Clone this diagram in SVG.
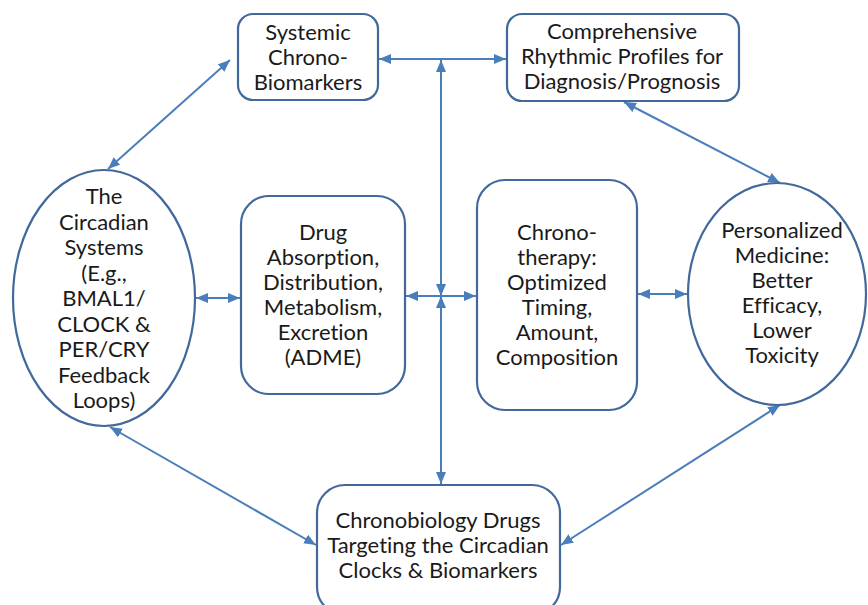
<svg xmlns="http://www.w3.org/2000/svg" width="868" height="605" viewBox="0 0 868 605">
<style>
.n{fill:#fff;stroke:#41699b;stroke-width:2.2}
.t{font-family:Lato,"Liberation Sans",sans-serif;font-size:22px;fill:#1a1a1a;text-anchor:middle;font-variant-ligatures:none}
.c{stroke:#4a7ebb;stroke-width:2;fill:none;marker-start:url(#ah);marker-end:url(#ah)}
</style>
<defs>
<marker id="ah" viewBox="0 0 12 10" refX="12" refY="5" markerWidth="12" markerHeight="10" markerUnits="userSpaceOnUse" orient="auto-start-reverse">
<path d="M0,0 L12,5 L0,10 Z" fill="#4a7ebb"/>
</marker>
</defs>
<rect width="868" height="605" fill="#fff"/>
<g id="connectors">
<line class="c" x1="379" y1="59" x2="506" y2="59"/>
<line class="c" x1="441" y1="296" x2="441" y2="60"/>
<line class="c" x1="441" y1="296" x2="441" y2="484"/>
<line class="c" x1="406" y1="296" x2="476" y2="296"/>
<line class="c" x1="196" y1="298" x2="240" y2="298"/>
<line class="c" x1="638" y1="294" x2="687" y2="294"/>
<line class="c" x1="230" y1="60" x2="108" y2="169"/>
<line class="c" x1="624" y1="102" x2="780" y2="183"/>
<line class="c" x1="110" y1="427" x2="316" y2="545"/>
<line class="c" x1="780" y1="405" x2="561" y2="545"/>
</g>
<g id="systemic">
<rect class="n" x="238" y="14" width="140" height="86" rx="15"/>
<text class="t" x="308" y="40">Systemic</text>
<text class="t" x="308" y="65">Chrono-</text>
<text class="t" x="308" y="90">Biomarkers</text>
</g>
<g id="comprehensive">
<rect class="n" x="507" y="14" width="232" height="87" rx="15"/>
<text class="t" x="622" y="39">Comprehensive</text>
<text class="t" x="622" y="64">Rhythmic Profiles for</text>
<text class="t" x="622" y="89">Diagnosis/Prognosis</text>
</g>
<g id="circadian">
<ellipse class="n" cx="104" cy="298" rx="91" ry="128"/>
<text class="t" x="104" y="204">The</text>
<text class="t" x="104" y="229.5">Circadian</text>
<text class="t" x="104" y="255">Systems</text>
<text class="t" x="104" y="280.5">(E.g.,</text>
<text class="t" x="104" y="306">BMAL1/</text>
<text class="t" x="104" y="331.5">CLOCK &amp;</text>
<text class="t" x="104" y="357">PER/CRY</text>
<text class="t" x="104" y="382.5">Feedback</text>
<text class="t" x="104" y="408">Loops)</text>
</g>
<g id="adme">
<rect class="n" x="241" y="196" width="164" height="198" rx="28"/>
<text class="t" x="323" y="240">Drug</text>
<text class="t" x="323" y="265">Absorption,</text>
<text class="t" x="323" y="290">Distribution,</text>
<text class="t" x="323" y="315">Metabolism,</text>
<text class="t" x="323" y="340">Excretion</text>
<text class="t" x="323" y="365">(ADME)</text>
</g>
<g id="chronotherapy">
<rect class="n" x="477" y="180" width="160" height="230" rx="28"/>
<text class="t" x="557" y="240">Chrono-</text>
<text class="t" x="557" y="265">therapy:</text>
<text class="t" x="557" y="290">Optimized</text>
<text class="t" x="557" y="315">Timing,</text>
<text class="t" x="557" y="340">Amount,</text>
<text class="t" x="557" y="365">Composition</text>
</g>
<g id="personalized">
<ellipse class="n" cx="777" cy="294" rx="89" ry="111"/>
<text class="t" x="782" y="238">Personalized</text>
<text class="t" x="782" y="263">Medicine:</text>
<text class="t" x="782" y="288">Better</text>
<text class="t" x="782" y="313">Efficacy,</text>
<text class="t" x="782" y="338">Lower</text>
<text class="t" x="782" y="363">Toxicity</text>
</g>
<g id="chronobiology">
<rect class="n" x="317" y="485" width="243" height="130" rx="28"/>
<text class="t" x="438" y="528">Chronobiology Drugs</text>
<text class="t" x="438" y="553">Targeting the Circadian</text>
<text class="t" x="438" y="578">Clocks &amp; Biomarkers</text>
</g>
</svg>
